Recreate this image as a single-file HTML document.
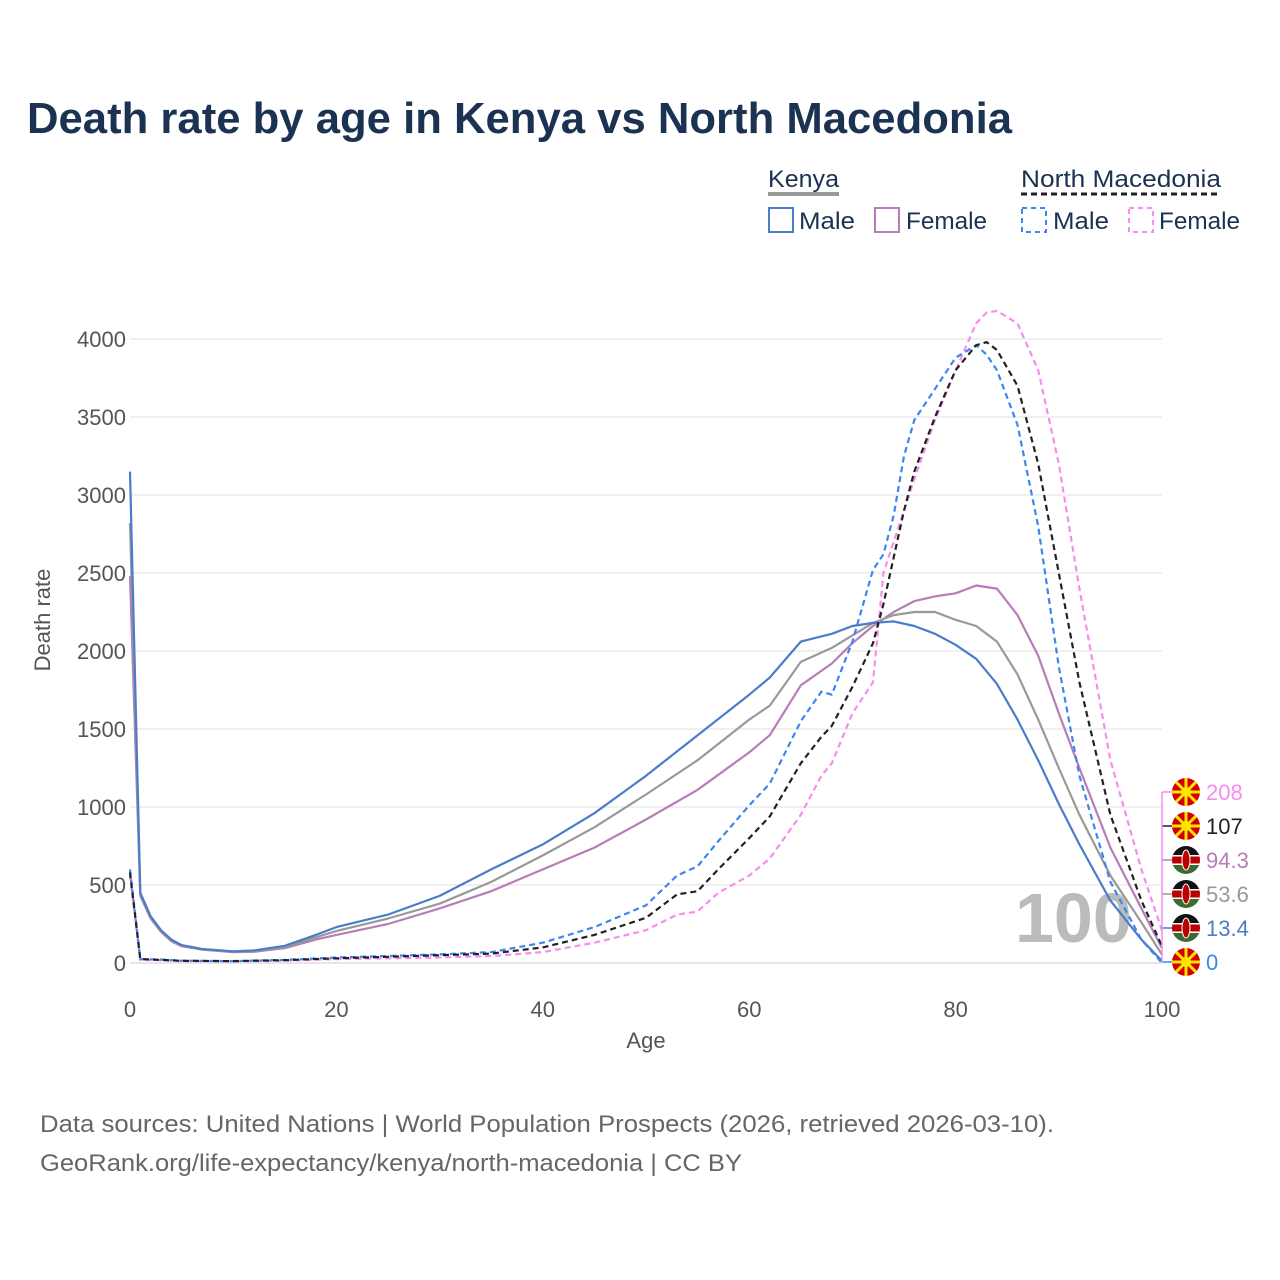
<!DOCTYPE html>
<html><head><meta charset="utf-8"><style>
html,body{margin:0;padding:0;background:#fff}
svg{display:block;font-family:"Liberation Sans",sans-serif}
</style></head><body>
<svg id="chart" width="1280" height="1280" viewBox="0 0 1280 1280" xmlns="http://www.w3.org/2000/svg">
<text x="27" y="133" font-size="44" font-weight="bold" fill="#1b3252" textLength="985" lengthAdjust="spacingAndGlyphs">Death rate by age in Kenya vs North Macedonia</text>
<g font-size="24" fill="#1b3252">
<text x="768" y="187" textLength="71" lengthAdjust="spacingAndGlyphs">Kenya</text>
<line x1="768" y1="194" x2="839" y2="194" stroke="#999" stroke-width="4"/>
<text x="1021" y="187" textLength="200" lengthAdjust="spacingAndGlyphs">North Macedonia</text>
<line x1="1021" y1="194" x2="1221" y2="194" stroke="#222" stroke-width="3" stroke-dasharray="6,4"/>
<g><rect x="769" y="208" width="24" height="24" fill="none" stroke="#4a7cc9" stroke-width="2"/><text x="799" y="229" textLength="56" lengthAdjust="spacingAndGlyphs">Male</text></g>
<g><rect x="875" y="208" width="24" height="24" fill="none" stroke="#b77db8" stroke-width="2"/><text x="906" y="229" textLength="81" lengthAdjust="spacingAndGlyphs">Female</text></g>
<g><rect x="1022" y="208" width="24" height="24" fill="none" stroke="#3d86f0" stroke-width="2" stroke-dasharray="5,4"/><text x="1053" y="229" textLength="56" lengthAdjust="spacingAndGlyphs">Male</text></g>
<g><rect x="1129" y="208" width="24" height="24" fill="none" stroke="#f78cf0" stroke-width="2" stroke-dasharray="5,4"/><text x="1159" y="229" textLength="81" lengthAdjust="spacingAndGlyphs">Female</text></g>
</g>
<g id="grid"></g>
<g id="axes"></g>
<text x="1015" y="942" font-size="70" font-weight="bold" fill="#bbb">100</text>
<g id="lines"></g>
<g id="ends"></g>
<text transform="translate(50,620) rotate(-90)" text-anchor="middle" font-size="22" fill="#555">Death rate</text>
<text x="646" y="1048" text-anchor="middle" font-size="22" fill="#555">Age</text>
<text x="40" y="1132" font-size="24" fill="#666" textLength="1014" lengthAdjust="spacingAndGlyphs">Data sources: United Nations | World Population Prospects (2026, retrieved 2026-03-10).</text>
<text x="40" y="1171" font-size="24" fill="#666" textLength="702" lengthAdjust="spacingAndGlyphs">GeoRank.org/life-expectancy/kenya/north-macedonia | CC BY</text>
</svg>
<script>
const xTicks=[0,20,40,60,80,100];
const yTicks=[0,500,1000,1500,2000,2500,3000,3500,4000];
const kAges=[0,1,2,3,4,5,7,10,12,15,18,20,25,30,35,40,45,50,55,60,62,65,68,70,72,74,76,78,80,82,84,86,88,90,92,95,98,100];
const kenyaMale=[3150,450,300,210,150,115,90,75,80,110,180,230,310,430,600,760,960,1200,1460,1720,1830,2060,2110,2160,2180,2190,2160,2110,2040,1950,1790,1560,1300,1020,760,400,150,13.4];
const kenyaTotal=[2820,440,290,205,145,112,88,72,76,100,165,205,285,380,520,690,870,1080,1300,1560,1650,1930,2020,2100,2180,2230,2250,2250,2200,2160,2060,1850,1560,1250,950,560,260,53.6];
const kenyaFemale=[2480,430,285,200,140,108,85,70,72,95,150,180,250,350,460,600,740,920,1110,1350,1460,1780,1920,2050,2160,2250,2320,2350,2370,2420,2400,2230,1970,1600,1250,740,350,94.3];
const nmAges=[0,1,3,5,10,15,20,25,30,35,40,45,50,53,55,57,60,62,65,67,68,70,72,73,74,75,76,78,80,82,83,84,86,88,90,92,95,98,100];
const nmMale=[600,25,22,15,12,20,35,45,55,70,130,230,370,560,620,780,1010,1150,1550,1740,1720,2060,2520,2620,2870,3250,3480,3680,3880,3960,3900,3800,3450,2800,1900,1200,520,150,0];
const nmTotal=[580,25,20,14,12,18,30,40,50,60,100,180,290,440,460,600,800,940,1280,1450,1520,1770,2050,2300,2600,2900,3150,3500,3800,3960,3980,3930,3700,3200,2500,1800,950,400,107];
const nmFemale=[560,20,18,12,10,15,25,30,35,45,70,130,210,310,330,450,560,670,950,1200,1280,1600,1800,2500,2700,2900,3100,3480,3800,4100,4170,4180,4100,3800,3200,2400,1300,600,208];
const endLabels=["208","107","94.3","53.6","13.4","0"];
const NS="http://www.w3.org/2000/svg";
const X=a=>130+a*10.32, Y=v=>963-v*0.156;
function mk(t,p,at){const e=document.createElementNS(NS,t);for(const k in at)e.setAttribute(k,at[k]);p.appendChild(e);return e;}
const grid=document.getElementById('grid'),axes=document.getElementById('axes');
yTicks.forEach(v=>{
 const l=mk('line',grid,{x1:130,x2:1162,y1:Y(v),y2:Y(v),stroke:v===0?'#ddd':'#ebebeb','stroke-width':1.5});
 
 
 const t=mk('text',axes,{x:126,y:Y(v)+8,'text-anchor':'end','font-size':22,fill:'#555'});t.textContent=v;
 
 
});
xTicks.forEach(a=>{
 const t=mk('text',axes,{x:X(a),y:1017,'text-anchor':'middle','font-size':22,fill:'#555'});t.textContent=a;
 
 
});
const lines=document.getElementById('lines');
const series=[
 [kAges,kenyaFemale,'#b77db8',null,'line-kenya-female'],
 [kAges,kenyaTotal,'#999',null,'line-kenya-total'],
 [kAges,kenyaMale,'#4a7cc9',null,'line-kenya-male'],
 [nmAges,nmFemale,'#f78cf0','6,4','line-nm-female'],
 [nmAges,nmMale,'#3d86f0','6,4','line-nm-male'],
 [nmAges,nmTotal,'#222','6,4','line-nm-total']];
series.forEach(s=>{
 const d=s[0].map((a,i)=>(i?'L':'M')+X(a).toFixed(1)+','+Y(s[1][i]).toFixed(1)).join('');
 const at={d:d,fill:'none',stroke:s[2],'stroke-width':2.2,'stroke-linejoin':'round'};
 if(s[3])at['stroke-dasharray']=s[3];
 const p=mk('path',lines,at);
 
 
});
const ends=document.getElementById('ends');
const endCols=['#f78cf0','#222','#b77db8','#999','#4a7cc9','#3d86f0'];
const flags=['mk','mk','ke','ke','ke','mk'];
endLabels.forEach((t,i)=>{
 const y=792+i*34;
 const cx=1186;
 if(flags[i]==='mk'){
  mk('circle',ends,{cx:cx,cy:y,r:14,fill:'#d20000'});
  for(let k=0;k<8;k++){const a=k*Math.PI/4;mk('line',ends,{x1:cx,y1:y,x2:cx+14*Math.cos(a),y2:y+14*Math.sin(a),stroke:'#ffe600','stroke-width':3});}
  mk('circle',ends,{cx:cx,cy:y,r:5,fill:'#ffe600'});
 } else {
  const g=mk('g',ends,{});
  mk('clipPath',g,{id:'c'+i}).appendChild(document.createElementNS(NS,'circle')).setAttribute('r',14);
  g.querySelector('circle').setAttribute('cx',cx);g.querySelector('circle').setAttribute('cy',y);
  const gg=mk('g',g,{'clip-path':'url(#c'+i+')'});
  mk('rect',gg,{x:cx-14,y:y-14,width:28,height:10,fill:'#111'});
  mk('rect',gg,{x:cx-14,y:y-4,width:28,height:8,fill:'#b00'});
  mk('rect',gg,{x:cx-14,y:y+4,width:28,height:10,fill:'#3c6b2e'});
  mk('rect',gg,{x:cx-14,y:y-5,width:28,height:1.5,fill:'#fff'});
  mk('rect',gg,{x:cx-14,y:y+3.5,width:28,height:1.5,fill:'#fff'});
  mk('ellipse',gg,{cx:cx,cy:y,rx:4,ry:10,fill:'#b00',stroke:'#fff','stroke-width':1});
 }
 const tx=mk('text',ends,{x:1206,y:y+8,'font-size':22,fill:endCols[i]});tx.textContent=t;
 
 
 mk('line',ends,{x1:1162,x2:1172,y1:y,y2:y,stroke:endCols[i],'stroke-width':1.5});
});
mk('line',ends,{x1:1162,x2:1162,y1:792,y2:963,stroke:'#f78cf0','stroke-width':1.5});
</script>
</body></html>
